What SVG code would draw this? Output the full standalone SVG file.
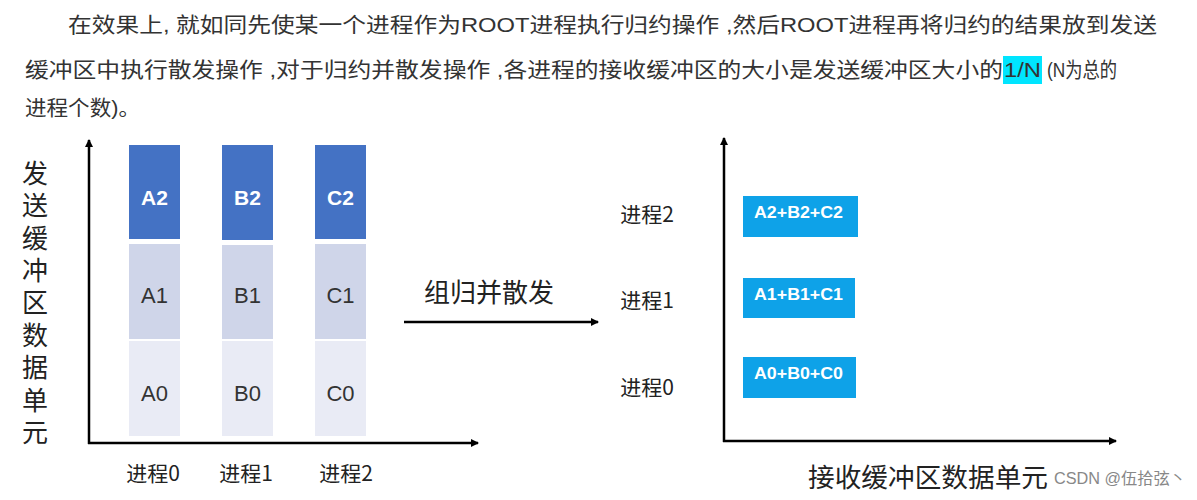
<svg xmlns="http://www.w3.org/2000/svg" width="1197" height="500" viewBox="0 0 1197 500">
<defs>
<marker id="ah" markerWidth="8" markerHeight="8" refX="7" refY="4" orient="auto" markerUnits="userSpaceOnUse">
<path d="M0,0 L8,4 L0,8 Z" fill="#000"/>
</marker>
<style>
.p{font-family:"Liberation Sans","Noto Sans CJK SC",sans-serif;font-size:21px;fill:#333}
.cjk{font-family:"Noto Sans CJK SC","Liberation Sans",sans-serif;fill:#222}
.ax{stroke:#000;stroke-width:2.5;fill:none}
.top{fill:#4472c4}
.mid{fill:#cfd5e9}
.bot{fill:#e9ebf5}
.lbl{font-family:"Liberation Sans","Noto Sans CJK SC",sans-serif;font-size:22px;fill:#333;text-anchor:middle;dominant-baseline:central}
.lblw{font-family:"Liberation Sans",sans-serif;font-size:21px;font-weight:bold;fill:#fff;text-anchor:middle;dominant-baseline:central}
.rb{fill:#0ea2e8}
.rt{font-family:"Liberation Sans",sans-serif;font-size:16px;font-weight:bold;fill:#fff;dominant-baseline:central}
.pl{font-family:"Noto Sans CJK SC","Liberation Sans",sans-serif;font-size:21px;fill:#222;text-anchor:middle;dominant-baseline:central}
.vt{writing-mode:vertical-rl;letter-spacing:6.4px}
</style>
</defs>
<rect width="1197" height="500" fill="#fff"/>
<g id="paragraph">
<text class="p" x="68" y="32" textLength="1089" lengthAdjust="spacingAndGlyphs">在效果上, 就如同先使某一个进程作为ROOT进程执行归约操作 ,然后ROOT进程再将归约的结果放到发送</text>
<text class="p" x="25" y="77" textLength="978" lengthAdjust="spacingAndGlyphs">缓冲区中执行散发操作 ,对于归约并散发操作 ,各进程的接收缓冲区的大小是发送缓冲区大小的</text>
<rect x="1003" y="56" width="39" height="28" fill="#00e5ff"/>
<text class="p" x="1004" y="77" textLength="37" lengthAdjust="spacingAndGlyphs">1/N</text>
<text class="p" x="1047" y="77" textLength="70" lengthAdjust="spacingAndGlyphs">(N为总的</text>
<text class="p" x="25" y="115" textLength="115" lengthAdjust="spacingAndGlyphs">进程个数)。</text>
</g>
<g id="connectors">
<line class="ax" x1="89" y1="444" x2="89" y2="140" marker-end="url(#ah)"/>
<line class="ax" x1="88" y1="443" x2="478" y2="443" marker-end="url(#ah)"/>
<line class="ax" x1="404" y1="322" x2="598" y2="322" marker-end="url(#ah)"/>
<line class="ax" x1="724" y1="442" x2="724" y2="138" marker-end="url(#ah)"/>
<line class="ax" x1="723" y1="441" x2="1116" y2="441" marker-end="url(#ah)"/>
</g>
<g id="y-label-left">
<text class="cjk vt" font-size="26" x="35" y="160">发送缓冲区数据单元</text>
</g>
<g id="node-A2"><rect class="top" x="129" y="145" width="51" height="94"/><text class="lblw" x="154.5" y="197">A2</text></g>
<g id="node-A1"><rect class="mid" x="129" y="244" width="51" height="95"/><text class="lbl" x="154.5" y="295">A1</text></g>
<g id="node-A0"><rect class="bot" x="129" y="341" width="51" height="95"/><text class="lbl" x="154.5" y="393">A0</text></g>
<g id="node-B2"><rect class="top" x="222" y="145" width="51" height="95"/><text class="lblw" x="247.5" y="197">B2</text></g>
<g id="node-B1"><rect class="mid" x="222" y="245" width="51" height="94"/><text class="lbl" x="247.5" y="295">B1</text></g>
<g id="node-B0"><rect class="bot" x="222" y="341" width="51" height="95"/><text class="lbl" x="247.5" y="393">B0</text></g>
<g id="node-C2"><rect class="top" x="315" y="145" width="51" height="94"/><text class="lblw" x="340.5" y="197">C2</text></g>
<g id="node-C1"><rect class="mid" x="315" y="244" width="51" height="95"/><text class="lbl" x="340.5" y="295">C1</text></g>
<g id="node-C0"><rect class="bot" x="315" y="341" width="51" height="95"/><text class="lbl" x="340.5" y="393">C0</text></g>
<g id="x-labels-left">
<text class="pl" x="153" y="472">进程0</text>
<text class="pl" x="246" y="472">进程1</text>
<text class="pl" x="346" y="472">进程2</text>
</g>
<g id="arrow-label"><text class="cjk" font-size="26" x="489" y="302" text-anchor="middle">组归并散发</text></g>
<g id="y-labels-right">
<text class="pl" x="647" y="213">进程2</text>
<text class="pl" x="647" y="299">进程1</text>
<text class="pl" x="647" y="386">进程0</text>
</g>
<g id="node-R2"><rect class="rb" x="743" y="196" width="115" height="41"/><text class="rt" x="754" y="212" textLength="89" lengthAdjust="spacingAndGlyphs">A2+B2+C2</text></g>
<g id="node-R1"><rect class="rb" x="743" y="278" width="112" height="40"/><text class="rt" x="754" y="294" textLength="89" lengthAdjust="spacingAndGlyphs">A1+B1+C1</text></g>
<g id="node-R0"><rect class="rb" x="743" y="357" width="113" height="41"/><text class="rt" x="754" y="373" textLength="89" lengthAdjust="spacingAndGlyphs">A0+B0+C0</text></g>
<g id="x-label-right"><text class="cjk" font-size="26" x="808" y="487" textLength="240" lengthAdjust="spacingAndGlyphs">接收缓冲区数据单元</text></g>
<g id="watermark"><text x="1054" y="484" font-family="Liberation Sans,Noto Sans CJK SC,sans-serif" font-size="16" fill="#888" textLength="132" lengthAdjust="spacingAndGlyphs">CSDN @伍拾弦丶</text></g>
</svg>
